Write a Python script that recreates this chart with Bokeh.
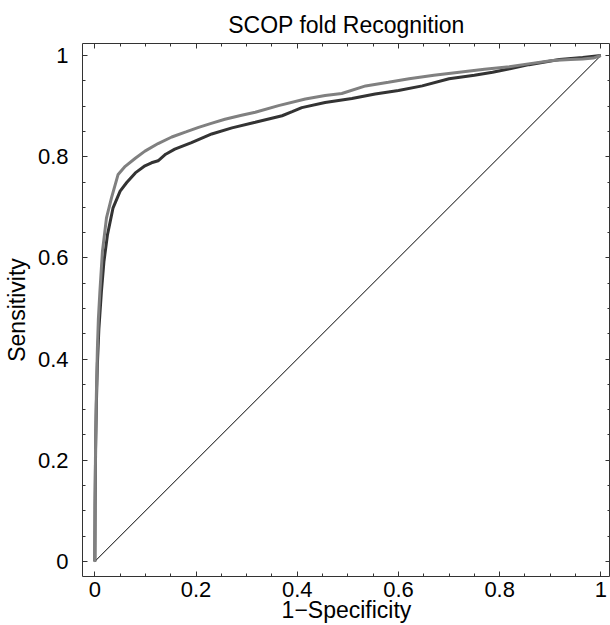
from bokeh.plotting import figure
from bokeh.models import Range1d, LinearAxis, FixedTicker
from bokeh.embed import file_html
from bokeh.resources import INLINE

# ---- data ----
title_text = "SCOP fold Recognition"
x_label = "1\u2212Specificity"
y_label = "Sensitivity"

major_ticks = [0, 0.2, 0.4, 0.6, 0.8, 1.0]
tick_labels = ["0", "0.2", "0.4", "0.6", "0.8", "1"]
minor_ticks = [0.05, 0.1, 0.15, 0.25, 0.3, 0.35, 0.45, 0.5, 0.55,
               0.65, 0.7, 0.75, 0.85, 0.9, 0.95]

# dark curve
fpr_a = [0, 0.0005, 0.0015, 0.003, 0.005, 0.008, 0.013, 0.018, 0.025, 0.036,
         0.05, 0.063, 0.08, 0.099, 0.112, 0.125, 0.14, 0.158, 0.191, 0.231,
         0.271, 0.317, 0.370, 0.39, 0.409, 0.455, 0.508, 0.554, 0.60, 0.647,
         0.700, 0.75, 0.786, 0.82, 0.858, 0.918, 0.964, 1.0]
tpr_a = [0, 0.11, 0.22, 0.31, 0.39, 0.46, 0.534, 0.593, 0.646, 0.699,
         0.732, 0.749, 0.768, 0.782, 0.788, 0.792, 0.805, 0.815, 0.828, 0.845,
         0.857, 0.868, 0.881, 0.889, 0.897, 0.907, 0.915, 0.924, 0.931, 0.940,
         0.954, 0.961, 0.967, 0.974, 0.982, 0.992, 0.996, 1.0]

# grey curve
fpr_b = [0, 0.0005, 0.0015, 0.003, 0.005, 0.007, 0.010, 0.015, 0.023, 0.033,
         0.046, 0.06, 0.08, 0.099, 0.125, 0.152, 0.18, 0.205, 0.23, 0.257,
         0.29, 0.317, 0.363, 0.416, 0.455, 0.488, 0.535, 0.58, 0.621, 0.67,
         0.720, 0.77, 0.819, 0.86, 0.904, 0.94, 0.964, 0.985, 1.0]
tpr_b = [0, 0.12, 0.24, 0.33, 0.42, 0.48, 0.534, 0.613, 0.679, 0.719,
         0.765, 0.781, 0.797, 0.811, 0.826, 0.839, 0.849, 0.858, 0.866, 0.874,
         0.882, 0.888, 0.901, 0.914, 0.921, 0.925, 0.940, 0.947, 0.954, 0.961,
         0.967, 0.973, 0.978, 0.984, 0.990, 0.992, 0.993, 0.995, 1.0]

diag_x = [0, 1]
diag_y = [0, 1]

FONT = "Liberation Sans"
TICK_FS = "22px"
LABEL_FS = "23px"

p = figure(width=610, height=625, output_backend="svg", toolbar_location=None,
           x_range=Range1d(-0.0244, 1.019), y_range=Range1d(-0.0298, 1.0238),
           min_border_left=81, min_border_right=0, min_border_top=43,
           min_border_bottom=0)
p.grid.visible = False
p.outline_line_color = "#333333"
p.outline_line_width = 1

p.title.text = title_text
p.title.text_font = FONT
p.title.text_font_size = LABEL_FS
p.title.text_font_style = "normal"
p.title.align = "center"
p.title.text_color = "black"
p.title.standoff = 12

def style_axis(ax, labels=True):
    ax.ticker = FixedTicker(ticks=major_ticks, minor_ticks=minor_ticks)
    ax.major_tick_in = 5
    ax.major_tick_out = 0
    ax.minor_tick_in = 3
    ax.minor_tick_out = 0
    ax.axis_line_color = None
    ax.major_tick_line_color = "#333333"
    ax.minor_tick_line_color = "#333333"
    if labels:
        ax.major_label_overrides = {t: l for t, l in zip(major_ticks, tick_labels)}
        ax.major_label_text_font = FONT
        ax.major_label_text_font_size = TICK_FS
        ax.major_label_text_color = "black"
        ax.axis_label_text_font = FONT
        ax.axis_label_text_font_size = LABEL_FS
        ax.axis_label_text_font_style = "normal"
        ax.axis_label_text_color = "black"
    else:
        ax.major_label_text_font_size = "0px"
        ax.major_label_text_color = None
        ax.major_label_standoff = 0
        ax.axis_label = None

xa = p.xaxis[0]
style_axis(xa)
xa.axis_label = x_label
xa.major_label_standoff = 5
xa.axis_label_standoff = -3

ya = p.yaxis[0]
style_axis(ya)
ya.axis_label = y_label
ya.major_label_standoff = 14
ya.axis_label_standoff = 5

top = LinearAxis()
style_axis(top, labels=False)
p.add_layout(top, "above")
right = LinearAxis()
style_axis(right, labels=False)
p.add_layout(right, "right")

p.line(diag_x, diag_y, line_color="black", line_width=1)
p.line(fpr_a, tpr_a, line_color="#333333", line_width=3)
p.line(fpr_b, tpr_b, line_color="#808080", line_width=3)

open("out.html", "w").write(file_html(p, INLINE))
